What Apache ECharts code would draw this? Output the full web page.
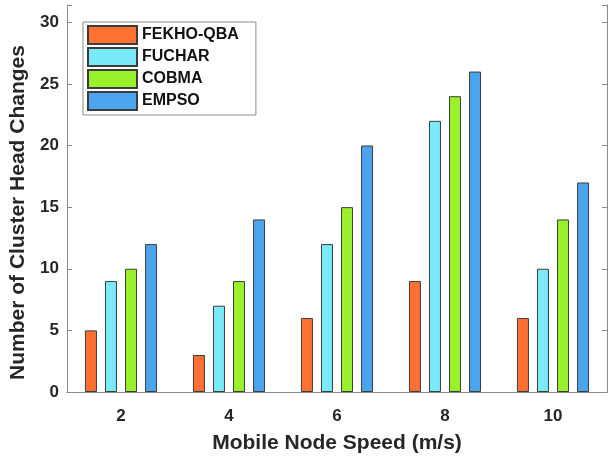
<!DOCTYPE html>
<html>
<head>
<meta charset="utf-8">
<script src="https://cdn.jsdelivr.net/npm/echarts@6/dist/echarts.min.js"></script>
<style>
  html, body { margin: 0; padding: 0; background: #fff; }
  #chart { width: 616px; height: 459px; }
</style>
</head>
<body>
<div id="chart"></div>
<script>
// data
var speeds = ['2', '4', '6', '8', '10'];
var fekho = [5, 3, 6, 9, 6];
var fuchar = [9, 7, 12, 22, 10];
var cobma = [10, 9, 15, 24, 14];
var empso = [12, 14, 20, 26, 17];

var names = ['FEKHO-QBA', 'FUCHAR', 'COBMA', 'EMPSO'];
var colors = ['#ff7033', '#7ae9f8', '#9af02b', '#4ca4ee'];
var values = [fekho, fuchar, cobma, empso];

var dom = document.getElementById('chart');
var myChart = echarts.init(dom);
var option;

var font = 'Liberation Sans, Arial, sans-serif';
var lineColor = '#8a8a8a';

function yLabel(v) {
  return v % 5 === 0 ? String(v) : '';
}

var series = names.map(function (n, i) {
  return {
    name: n,
    type: 'bar',
    barWidth: 12,
    barGap: '67%',
    itemStyle: {
      color: colors[i],
      borderColor: '#3c3c3c',
      borderWidth: 1
    },
    data: values[i]
  };
});

option = {
  animation: false,
  backgroundColor: '#fff',
  grid: {
    left: 67,
    right: 9,
    top: 5,
    bottom: 63
  },
  legend: {
    orient: 'vertical',
    left: 83,
    top: 22,
    data: names,
    icon: 'rect',
    itemWidth: 49,
    itemHeight: 18,
    itemGap: 2,
    padding: [3, 17, 4, 4],
    borderColor: '#8a8a8a',
    borderWidth: 1,
    backgroundColor: '#fff',
    textStyle: {
      fontFamily: font,
      fontWeight: 'bold',
      fontSize: 16,
      lineHeight: 18,
      color: '#111'
    }
  },
  xAxis: [
    {
      type: 'category',
      data: speeds,
      name: 'Mobile Node Speed (m/s)',
      nameLocation: 'middle',
      nameGap: 41,
      nameTextStyle: { fontFamily: font, fontWeight: 'bold', fontSize: 21, color: '#262626' },
      axisLine: { lineStyle: { color: lineColor } },
      axisTick: { inside: true, alignWithLabel: true, length: 4, lineStyle: { color: lineColor } },
      axisLabel: { margin: 16, fontFamily: font, fontWeight: 'bold', fontSize: 17, color: '#262626' }
    },
    {
      type: 'category',
      data: speeds,
      position: 'top',
      axisLine: { lineStyle: { color: lineColor } },
      axisTick: { inside: true, alignWithLabel: true, length: 4, lineStyle: { color: lineColor } },
      axisLabel: { show: false }
    }
  ],
  yAxis: [
    {
      type: 'value',
      min: 0,
      max: 31.4,
      interval: 5,
      name: 'Number of Cluster Head Changes',
      nameLocation: 'middle',
      nameGap: 31,
      nameTextStyle: { fontFamily: font, fontWeight: 'bold', fontSize: 21, color: '#262626', padding: [0, 28, 0, 0] },
      axisLine: { show: true, lineStyle: { color: lineColor } },
      axisTick: { show: true, inside: true, length: 5, lineStyle: { color: lineColor } },
      splitLine: { show: false },
      axisLabel: { margin: 8, formatter: yLabel, fontFamily: font, fontWeight: 'bold', fontSize: 17, color: '#262626' }
    },
    {
      type: 'value',
      min: 0,
      max: 31.4,
      interval: 5,
      position: 'right',
      axisLine: { show: true, lineStyle: { color: lineColor } },
      axisTick: { show: true, inside: true, length: 5, lineStyle: { color: lineColor } },
      splitLine: { show: false },
      axisLabel: { show: false }
    }
  ],
  series: series
};

if (option && typeof option === 'object') {
  myChart.setOption(option);
}
</script>
</body>
</html>
